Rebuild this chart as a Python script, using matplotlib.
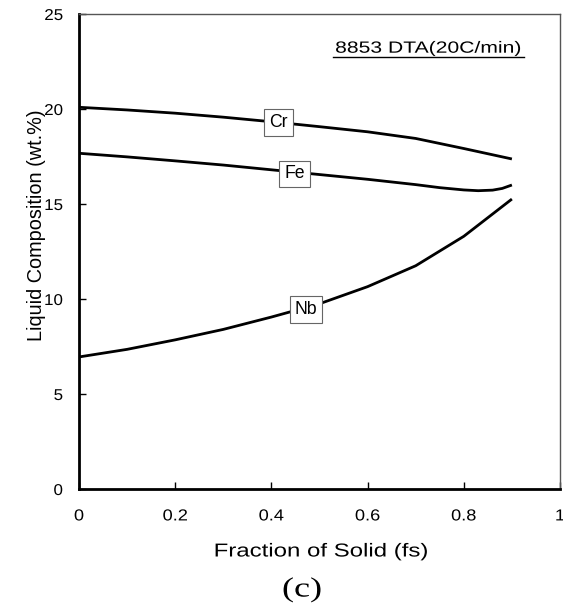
import matplotlib
matplotlib.use("Agg")
import matplotlib.pyplot as plt
from matplotlib.patheffects import AbstractPathEffect
from matplotlib.transforms import Affine2D

plt.rcParams['font.family'] = ['Liberation Sans', 'DejaVu Sans']

# Liquid composition vs. fraction of solid (8853, DTA 20C/min)
fs_cr = [0.0, 0.1, 0.2, 0.3, 0.4, 0.5, 0.6, 0.7, 0.8, 0.9]
cr = [20.09, 19.95, 19.78, 19.57, 19.33, 19.07, 18.80, 18.45, 17.92, 17.37]

fs_fe = [0.0, 0.1, 0.2, 0.3, 0.4, 0.5, 0.6, 0.7, 0.75, 0.8, 0.83, 0.86, 0.88, 0.9]
fe = [17.67, 17.48, 17.27, 17.05, 16.80, 16.55, 16.30, 16.02, 15.86, 15.74, 15.70, 15.73, 15.82, 16.00]

fs_nb = [0.0, 0.1, 0.2, 0.3, 0.4, 0.5, 0.6, 0.7, 0.8, 0.9]
nb = [6.95, 7.35, 7.85, 8.40, 9.05, 9.75, 10.65, 11.75, 13.30, 15.26]

# label positions along each curve
labels = ["Cr", "Fe", "Nb"]
label_x = [0.415, 0.448, 0.472]
label_y = [19.29, 16.58, 9.47]

xticks = [0, 0.2, 0.4, 0.6, 0.8, 1]
xticklabels = ["0", "0.2", "0.4", "0.6", "0.8", "1"]
yticks = [0, 5, 10, 15, 20, 25]


class Stretch(AbstractPathEffect):
    """Widen glyphs horizontally about the text's centre (or right edge)."""

    def __init__(self, sx, anchor='center'):
        super().__init__()
        self.sx = sx
        self.anchor = anchor

    def draw_path(self, renderer, gc, tpath, affine, rgbFace=None):
        ext = tpath.get_extents(affine)
        cx = ext.x1 if self.anchor == 'right' else 0.5 * (ext.x0 + ext.x1)
        aff = affine + Affine2D().translate(-cx, 0).scale(self.sx, 1).translate(cx, 0)
        renderer.draw_path(gc, tpath, aff, rgbFace)


fig = plt.figure(figsize=(5.63, 6.11), dpi=100)
ax = fig.add_axes([79/563, 1 - 489/611, 481/563, 475/611])

for xs, ys in [(fs_cr, cr), (fs_fe, fe), (fs_nb, nb)]:
    ax.plot(xs, ys, color='black', lw=2.0, solid_capstyle='butt', zorder=2)

for t, lx, ly in zip(labels, label_x, label_y):
    ax.text(lx, ly, t, ha='center', va='center', fontsize=12.7, zorder=3,
            bbox=dict(boxstyle='square,pad=0.28', fc='white', ec='#666666', lw=0.8))

ax.text(0.7266, 23.2, "8853 DTA(20C/min)", ha='center', va='center', fontsize=11.7,
        path_effects=[Stretch(1.3)])
ax.plot([0.528, 0.925], [22.74, 22.74], color='black', lw=1.0)

ax.set_xlim(0, 1)
ax.set_ylim(0, 25)
ax.set_xticks(xticks)
ax.set_xticklabels(xticklabels)
ax.set_yticks(yticks)
ax.tick_params(direction='in', length=5, width=1)
ax.tick_params(axis='x', labelsize=11.5, pad=14)
ax.tick_params(axis='y', labelsize=11.3, pad=11.5)
for lbl in ax.get_xticklabels():
    lbl.set_path_effects([Stretch(1.14)])
for lbl in ax.get_yticklabels():
    lbl.set_path_effects([Stretch(1.08, anchor='right')])

for side in ['left', 'bottom']:
    ax.spines[side].set_linewidth(2)
    ax.spines[side].set_color('black')
for side in ['top', 'right']:
    ax.spines[side].set_linewidth(1)
    ax.spines[side].set_color('#555555')

fig.text(321/563, 1 - 552/611, "Fraction of Solid (fs)", ha='center', va='center',
         fontsize=13.5, path_effects=[Stretch(1.28)])
fig.text(37/563, 1 - 225/611, "Liquid Composition (wt.%)", ha='center', va='center',
         rotation=90, fontsize=14.3)
fig.text(302/563, 1 - 590/611, "(c)", ha='center', va='center', fontsize=20,
         family=['Liberation Serif', 'DejaVu Serif'], path_effects=[Stretch(1.3)])

fig.savefig("out.png", dpi=100)
